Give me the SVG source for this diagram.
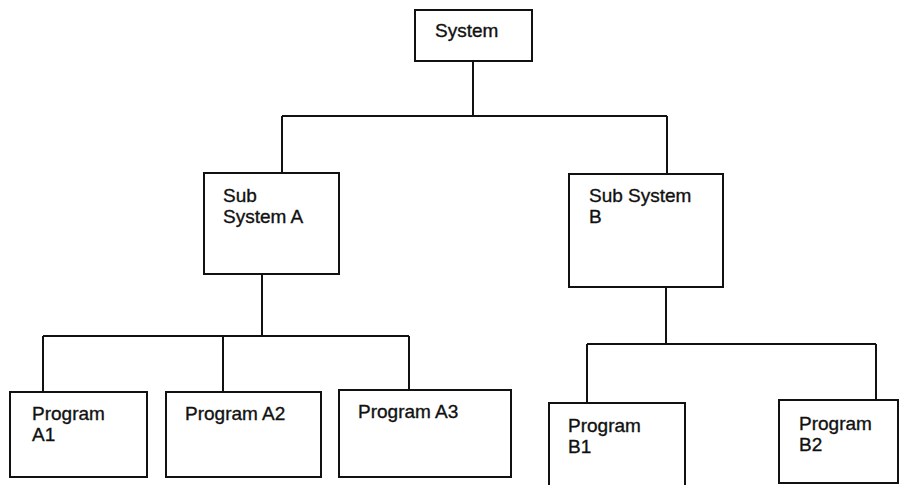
<svg xmlns="http://www.w3.org/2000/svg" width="901" height="485" viewBox="0 0 901 485">
<style>
.box{fill:#fff;stroke:#111;stroke-width:2}
.ln{fill:none;stroke:#111;stroke-width:2}
text{font-family:"Liberation Sans",Arial,sans-serif;font-size:19px;fill:#111;stroke:#111;stroke-width:0.35}
</style>
<rect width="901" height="485" fill="#fff"/>
<g id="connectors">
<path class="ln" d="M473 61V116M282 116H667M282 116V173M667 116V174"/>
<path class="ln" d="M262 274V336M43 336H409M43 336V392M223 336V392M409 336V390"/>
<path class="ln" d="M666 287V344M587 344H876M587 344V403M876 344V400"/>
</g>
<g id="system"><rect class="box" x="415" y="10" width="117" height="51"/><text x="435" y="37">System</text></g>
<g id="subA"><rect class="box" x="204" y="173" width="135" height="101"/><text x="223" y="202">Sub</text><text x="223" y="223">System A</text></g>
<g id="subB"><rect class="box" x="569" y="174" width="154" height="113"/><text x="589" y="202">Sub System</text><text x="589" y="223">B</text></g>
<g id="progA1"><rect class="box" x="10" y="392" width="137" height="85"/><text x="32" y="420">Program</text><text x="32" y="441">A1</text></g>
<g id="progA2"><rect class="box" x="166" y="392" width="155" height="85"/><text x="185" y="420">Program A2</text></g>
<g id="progA3"><rect class="box" x="339" y="390" width="172" height="87"/><text x="358" y="418">Program A3</text></g>
<g id="progB1"><rect class="box" x="549" y="403" width="136" height="90"/><text x="568" y="432">Program</text><text x="568" y="453">B1</text></g>
<g id="progB2"><rect class="box" x="779" y="400" width="119" height="83"/><text x="799" y="430">Program</text><text x="799" y="451">B2</text></g>
</svg>
